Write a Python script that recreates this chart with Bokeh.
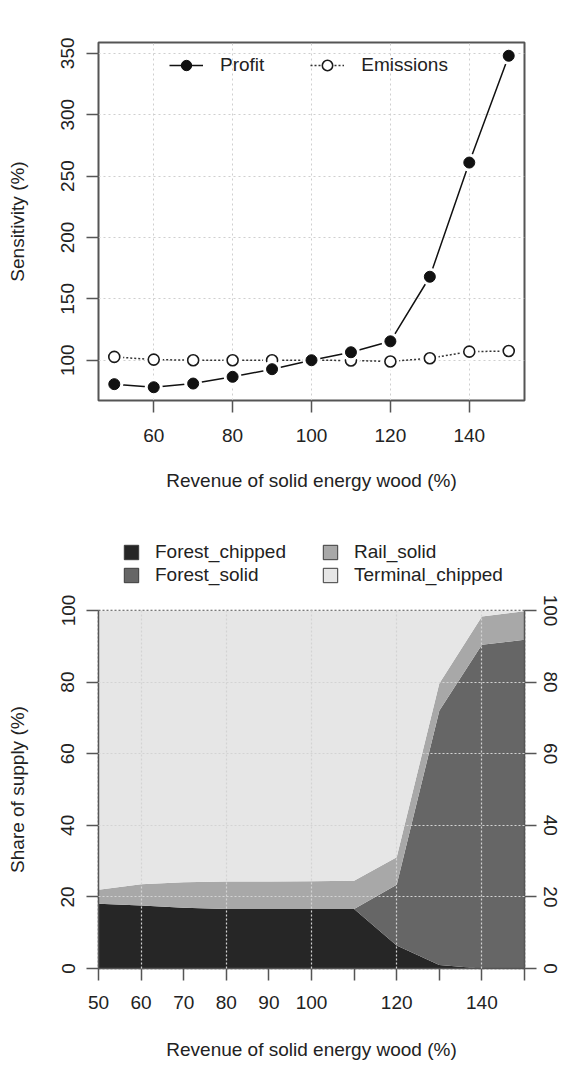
from bokeh.plotting import figure
from bokeh.layouts import column
from bokeh.models import (Range1d, FixedTicker, LinearAxis, Legend, LegendItem,
                          ColumnDataSource)
from bokeh.embed import file_html
from bokeh.resources import INLINE

# ---------------- data ----------------
revenue = [50, 60, 70, 80, 90, 100, 110, 120, 130, 140, 150]
profit = [80.5, 78.0, 81.0, 86.5, 92.7, 100.0, 106.5, 115.4, 168.0, 261.0, 348.0]
emissions = [102.7, 100.5, 100.0, 100.0, 100.0, 100.0, 99.8, 99.0, 101.6, 107.0, 107.5]

forest_chipped = [18.1, 17.6, 17.0, 16.6, 16.6, 16.6, 16.6, 6.4, 1.0, 0.0, 0.0]
forest_solid = [0.0, 0.0, 0.0, 0.0, 0.0, 0.0, 0.0, 17.0, 71.0, 90.4, 91.8]
rail_solid = [3.9, 5.9, 7.1, 7.7, 7.7, 7.8, 7.9, 7.7, 7.6, 7.9, 8.0]
terminal_chipped = [78.0, 76.5, 75.9, 75.7, 75.7, 75.6, 75.5, 68.9, 20.4, 1.7, 0.2]

series_names = ["Forest_chipped", "Forest_solid", "Rail_solid", "Terminal_chipped"]
series_colors = ["#262626", "#666666", "#a8a8a8", "#e6e6e6"]
legend_order = ["Forest_chipped", "Rail_solid", "Forest_solid", "Terminal_chipped"]

top_xticks = [60, 80, 100, 120, 140]
top_yticks = [100, 150, 200, 250, 300, 350]
bot_xticks = [50, 60, 70, 80, 90, 100, 110, 120, 130, 140, 150]
bot_xgrid = [60, 80, 100, 120, 140]
bot_yticks = [0, 20, 40, 60, 80, 100]
bot_ygrid = [20, 40, 60, 80]

FONT = "Liberation Sans"
FS = "19px"
TXT = "#222222"
AXC = "#555555"
W = 565


def style_axis(ax, ticker, label_orient=None, tick_standoff=10, label_standoff=20):
    ax.ticker = FixedTicker(ticks=ticker)
    ax.major_tick_out = 12
    ax.major_tick_in = 0
    ax.minor_tick_line_color = None
    ax.major_tick_line_color = AXC
    ax.major_tick_line_width = 1.5
    ax.major_label_text_font = FONT
    ax.major_label_text_font_size = FS
    ax.major_label_text_color = TXT
    ax.major_label_standoff = tick_standoff
    ax.axis_label_text_font = FONT
    ax.axis_label_text_font_size = FS
    ax.axis_label_text_font_style = "normal"
    ax.axis_label_text_color = TXT
    ax.axis_label_standoff = label_standoff
    if label_orient is not None:
        ax.major_label_orientation = label_orient


# ---------------- top chart ----------------
p1 = figure(width=W, height=515, x_range=Range1d(46, 154), y_range=Range1d(67.2, 358.8),
            output_backend="svg", toolbar_location=None,
            min_border_left=98, min_border_right=41, min_border_top=42, min_border_bottom=115)
p1.background_fill_color = "white"
p1.border_fill_color = "white"
p1.outline_line_color = AXC
p1.outline_line_width = 2

style_axis(p1.xaxis[0], top_xticks, tick_standoff=16, label_standoff=25)
style_axis(p1.yaxis[0], top_yticks, label_orient="vertical", tick_standoff=12, label_standoff=31)
p1.xaxis.axis_line_color = None
p1.yaxis.axis_line_color = None
p1.xaxis.axis_label = "Revenue of solid energy wood (%)"
p1.yaxis.axis_label = "Sensitivity (%)"

p1.xgrid.ticker = FixedTicker(ticks=top_xticks)
p1.ygrid.ticker = FixedTicker(ticks=top_yticks)
p1.grid.grid_line_color = "#cfcfcf"
p1.grid.grid_line_dash = "2 3"
p1.grid.grid_line_width = 1

src1 = ColumnDataSource(dict(x=revenue, profit=profit, emissions=emissions))

em_line = p1.line("x", "emissions", source=src1, line_color="#333333", line_width=1.5,
                  line_dash="2 2")
p1.scatter("x", "emissions", source=src1, size=18, fill_color="white", line_color=None)
em_pts = p1.scatter("x", "emissions", source=src1, size=11, fill_color="white",
                    line_color="#1a1a1a", line_width=1.6)

pr_line = p1.line("x", "profit", source=src1, line_color="#111111", line_width=1.5)
p1.scatter("x", "profit", source=src1, size=18, fill_color="white", line_color=None)
pr_pts = p1.scatter("x", "profit", source=src1, size=11, fill_color="#111111",
                    line_color="#111111")

leg1 = Legend(items=[LegendItem(label="Profit", renderers=[pr_line, pr_pts]),
                     LegendItem(label="Emissions", renderers=[em_line, em_pts])],
              orientation="horizontal", location=(71, 322))
leg1.border_line_color = None
leg1.background_fill_alpha = 0
leg1.padding = 0
leg1.margin = 0
leg1.glyph_width = 34
leg1.glyph_height = 26
leg1.label_standoff = 17
leg1.spacing = 46
leg1.label_text_font = FONT
leg1.label_text_font_size = FS
leg1.label_text_color = TXT
p1.add_layout(leg1, "center")

# ---------------- legend strip for the bottom chart ----------------
# the series are drawn here out of the visible range, only their legend swatches show
pleg = figure(width=W, height=75, x_range=Range1d(50, 150), y_range=Range1d(1000, 1001),
              x_axis_type=None, y_axis_type=None, output_backend="svg",
              toolbar_location=None, min_border=0)
pleg.outline_line_color = None
pleg.grid.visible = False
pleg.background_fill_color = "white"
pleg.border_fill_color = "white"
series_values = dict(zip(series_names, [forest_chipped, forest_solid, rail_solid, terminal_chipped]))
color_of = dict(zip(series_names, series_colors))
swatches = {n: pleg.patch(x=revenue, y=series_values[n], fill_color=color_of[n],
                          line_color="#3a3a3a", line_width=1) for n in series_names}
leg2 = Legend(items=[LegendItem(label=n, renderers=[swatches[n]]) for n in legend_order],
              orientation="horizontal", ncols=2, location=(24, 4))
leg2.border_line_color = None
leg2.background_fill_alpha = 0
leg2.padding = 0
leg2.margin = 0
leg2.glyph_width = 18
leg2.glyph_height = 18
leg2.label_standoff = 15
leg2.label_width = 165
leg2.spacing = 1
leg2.label_text_font = FONT
leg2.label_text_font_size = FS
leg2.label_text_color = TXT
pleg.add_layout(leg2, "center")

# ---------------- bottom chart ----------------
p2 = figure(width=W, height=489, x_range=Range1d(50, 150), y_range=Range1d(0, 100),
            output_backend="svg", toolbar_location=None,
            min_border_left=98, min_border_right=41, min_border_top=20, min_border_bottom=111)
p2.background_fill_color = "white"
p2.border_fill_color = "white"
p2.outline_line_color = AXC
p2.outline_line_width = 1.5
p2.outline_line_dash = "2 2"

src2 = ColumnDataSource(dict(x=revenue, Forest_chipped=forest_chipped, Forest_solid=forest_solid,
                             Rail_solid=rail_solid, Terminal_chipped=terminal_chipped))
areas = p2.varea_stack(stackers=series_names, x="x", color=series_colors, source=src2)

style_axis(p2.xaxis[0], bot_xticks, tick_standoff=15, label_standoff=27)
style_axis(p2.yaxis[0], bot_yticks, label_orient="vertical", tick_standoff=12, label_standoff=31)
p2.xaxis.major_label_overrides = {110: "", 130: "", 150: ""}
p2.xaxis.axis_line_color = AXC
p2.xaxis.axis_line_width = 1.5
p2.yaxis.axis_line_color = AXC
p2.yaxis.axis_line_width = 1.5
p2.xaxis.axis_label = "Revenue of solid energy wood (%)"
p2.yaxis.axis_label = "Share of supply (%)"

rax = LinearAxis()
style_axis(rax, bot_yticks, label_orient="vertical", tick_standoff=7)
rax.axis_line_color = AXC
rax.axis_line_width = 1.5
p2.add_layout(rax, "right")

p2.xgrid.ticker = FixedTicker(ticks=bot_xgrid)
p2.ygrid.ticker = FixedTicker(ticks=bot_ygrid)
p2.grid.grid_line_color = "#d3d3d3"
p2.grid.grid_line_dash = "2 2"
p2.grid.grid_line_width = 1.2
p2.grid.level = "overlay"

layout = column(p1, pleg, p2, spacing=0)
open("out.html", "w").write(file_html(layout, INLINE))
